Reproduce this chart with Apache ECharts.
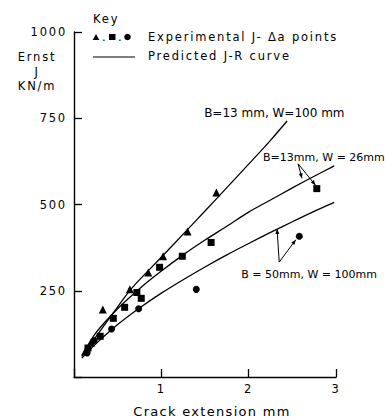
<!DOCTYPE html>
<html><head><meta charset="utf-8">
<script src="https://cdn.jsdelivr.net/npm/echarts@6/dist/echarts.min.js"></script>
<style>
html,body{margin:0;padding:0;background:#fff;}
#c{width:385px;height:417px;}
#c text[style*="WideA"]{letter-spacing:1.8px;}
#c text[style*="WideB"]{letter-spacing:1.3px;}
</style></head><body><div id="c"></div>
<script>
// Tick labels
const xTickValues = [1, 2, 3];
const yTickValues = [250, 500, 750, 1000];

// Predicted J-R curves
const curveA_x = [0.09, 0.25, 0.5, 0.66, 1.0, 1.25, 1.5, 1.75, 2.0, 2.25, 2.44];
const curveA_y = [60, 116, 203, 257, 347, 414, 481, 549, 617, 686, 742];      // B=13mm, W=100mm
const curveB_x = [0.09, 0.25, 0.5, 0.75, 1.0, 1.25, 1.5, 1.75, 2.0, 2.25, 2.5, 2.75, 2.98];
const curveB_y = [62, 128, 198, 256, 307, 354, 397, 437, 478, 513, 548, 582, 612];  // B=13mm, W=26mm
const curveC_x = [0.09, 0.25, 0.5, 0.75, 1.0, 1.25, 1.5, 1.75, 2.0, 2.25, 2.5, 2.75, 2.98];
const curveC_y = [55, 96, 152, 200, 243, 282, 319, 354, 387, 419, 450, 480, 506];   // B=50mm, W=100mm

// Experimental points
const triX = [0.13, 0.20, 0.33, 0.64, 0.85, 1.02, 1.30, 1.63];
const triY = [75, 100, 196, 254, 303, 350, 422, 535];
const sqX = [0.16, 0.30, 0.45, 0.58, 0.72, 0.77, 0.98, 1.24, 1.57, 2.78];
const sqY = [84, 118, 170, 202, 245, 228, 318, 350, 390, 546];
const ciX = [0.15, 0.23, 0.43, 0.74, 1.40, 2.58];
const ciY = [70, 106, 139, 198, 254, 408];

const zip = (a, b) => a.map((v, i) => [v, b[i]]);
const K = '#000';
const FA = 'WideA, DejaVu Sans';
const FB = 'WideB, DejaVu Sans';
const FN = 'DejaVu Sans';

const chart = echarts.init(document.getElementById('c'), null, {renderer: 'svg'});
const lineS = (d) => ({type: 'line', data: d, showSymbol: false, smooth: 0.3, silent: true,
  lineStyle: {color: K, width: 1.3}, z: 2});
const scat = (d, sym, size) => ({type: 'scatter', data: d, symbol: sym, symbolSize: size,
  itemStyle: {color: K, opacity: 1}, z: 3, silent: true});

chart.setOption({
  animation: false,
  backgroundColor: '#fff',
  grid: {left: 74, top: 32, right: 49, bottom: 40},
  xAxis: {type: 'value', min: 0, max: 3, interval: 1,
    axisLine: {show: true, lineStyle: {color: K, width: 1.4}},
    axisTick: {show: true, inside: true, length: 8, lineStyle: {color: K, width: 1.3}},
    axisLabel: {margin: 6, color: K, fontSize: 11.5, fontFamily: FA,
      formatter: v => xTickValues.includes(v) ? String(v) : ''},
    splitLine: {show: false}},
  yAxis: {type: 'value', min: 0, max: 1000, interval: 250,
    axisLine: {show: true, lineStyle: {color: K, width: 1.4}},
    axisTick: {show: true, inside: true, length: 8, lineStyle: {color: K, width: 1.3}},
    axisLabel: {margin: 7, color: K, fontSize: 11.5, fontFamily: FA,
      formatter: v => yTickValues.includes(v) ? String(v) : ''},
    splitLine: {show: false}},
  series: [
    lineS(zip(curveA_x, curveA_y)),
    lineS(zip(curveB_x, curveB_y)),
    lineS(zip(curveC_x, curveC_y)),
    scat(zip(triX, triY), 'triangle', 8),
    scat(zip(sqX, sqY), 'rect', 7),
    scat(zip(ciX, ciY), 'circle', 7)
  ]
});

const P = (x, y) => chart.convertToPixel({gridIndex: 0}, [x, y]);
function arrow(from, to) {
  const dx = to[0] - from[0], dy = to[1] - from[1];
  const L = Math.hypot(dx, dy), ux = dx / L, uy = dy / L;
  const bx = to[0] - ux * 5, by = to[1] - uy * 5;
  return [
    {type: 'line', shape: {x1: from[0], y1: from[1], x2: to[0], y2: to[1]}, style: {stroke: K, lineWidth: 1}},
    {type: 'polygon', shape: {points: [to, [bx - uy * 2, by + ux * 2], [bx + uy * 2, by - ux * 2]]}, style: {fill: K}}
  ];
}
const txt = (t, x, y, size, fam, align) => ({type: 'text', x, y,
  style: {text: t, fill: K, fontSize: size, fontFamily: fam, align: align || 'left', verticalAlign: 'middle'}});

const a2o = P(2.566, 618), a2t1 = P(2.61, 576), a2t2 = P(2.765, 556);
const a3o = P(2.35, 333), a3t1 = P(2.325, 429), a3t2 = P(2.54, 398);
const t1 = P(1.49, 766), t2 = P(2.165, 637), t3 = P(1.915, 298);

const g = [
  // legend
  txt('Key', 93, 19, 11.5, FA),
  {type: 'polygon', shape: {points: [[96, 34], [99.3, 40], [92.7, 40]]}, style: {fill: K}},
  txt('.', 102, 37, 11.5, FN),
  {type: 'rect', shape: {x: 109, y: 34, width: 6.5, height: 6}, style: {fill: K}},
  txt('.', 118, 37, 11.5, FN),
  {type: 'circle', shape: {cx: 127.5, cy: 37, r: 3.3}, style: {fill: K}},
  txt('Experimental J- \u0394a points', 148, 37, 11.5, FA),
  {type: 'line', shape: {x1: 93, y1: 57, x2: 135, y2: 57}, style: {stroke: K, lineWidth: 1.2}},
  txt('Predicted J-R curve', 148, 56, 11.5, FA),
  // axis titles
  {type: 'text', x: 37, y: 50, style: {text: 'Ernst\nJ\nKN/m', fill: K, fontSize: 11.5, fontFamily: FA,
    align: 'center', verticalAlign: 'top', lineHeight: 14.5}},
  txt('Crack extension mm', 212, 411, 13, FB, 'center'),
  // annotations
  txt('B=13 mm, W=100 mm', t1[0], t1[1], 12, FN),
  txt('B=13mm, W = 26mm', t2[0], t2[1], 11, FN),
  txt('B = 50mm, W = 100mm', t3[0], t3[1], 11, FN),
  ...arrow(a2o, a2t1), ...arrow(a2o, a2t2),
  ...arrow(a3o, a3t1), ...arrow(a3o, a3t2)
];
chart.setOption({graphic: g});
</script></body></html>
